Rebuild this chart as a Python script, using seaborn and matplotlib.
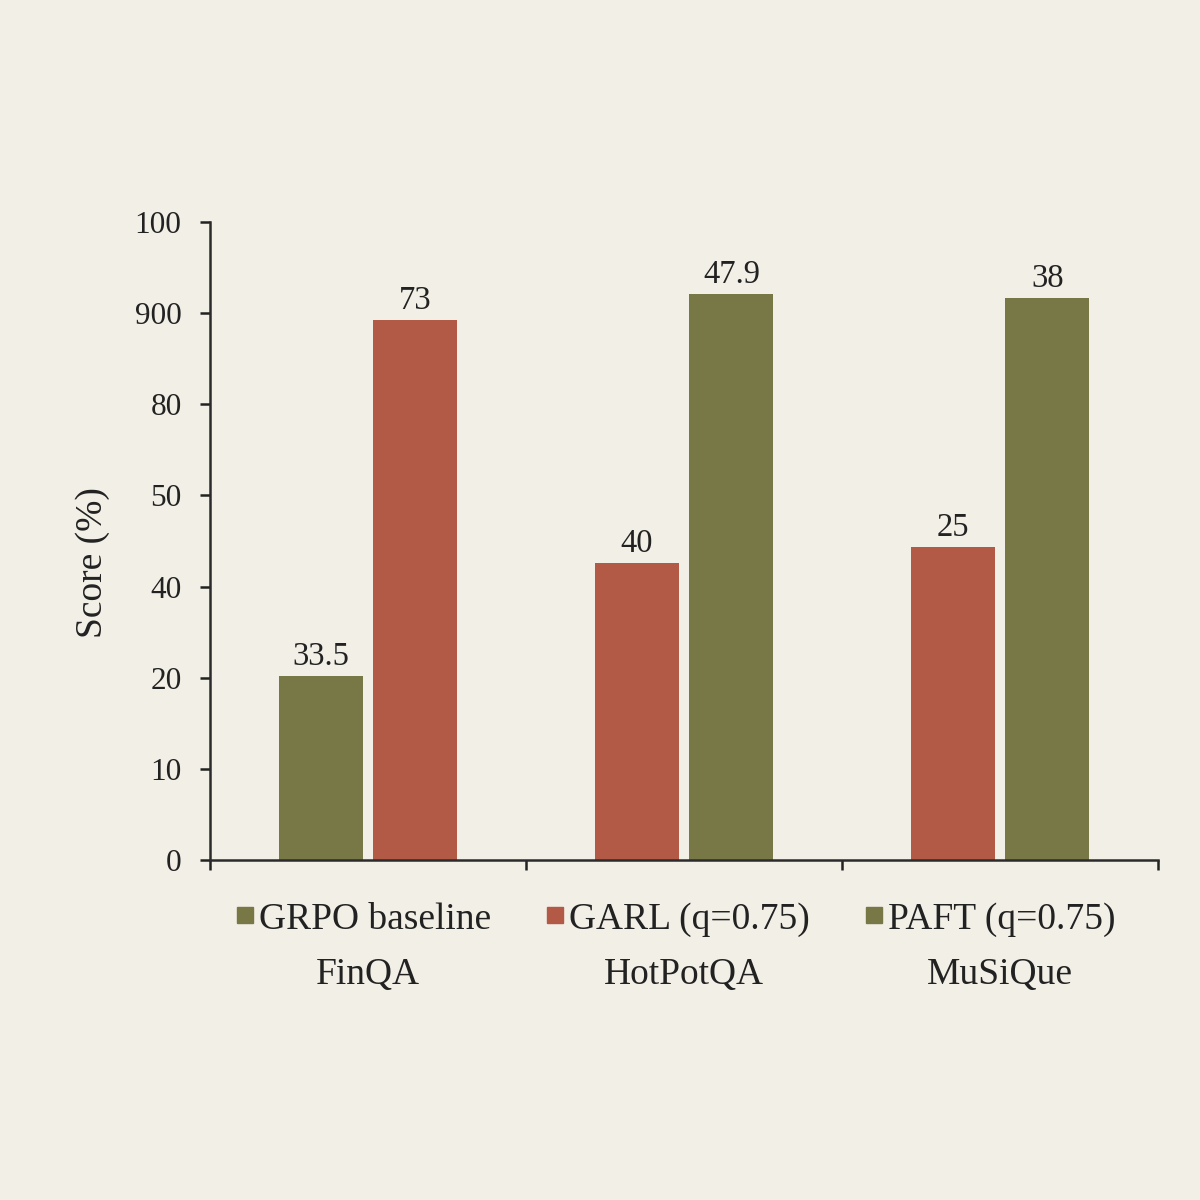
import numpy as np
import pandas as pd
import matplotlib
matplotlib.use("Agg")
import matplotlib.pyplot as plt
import seaborn as sns
from matplotlib.lines import Line2D

# ---- data ----
datasets = ["FinQA", "FinQA", "HotPotQA", "HotPotQA", "MuSiQue", "MuSiQue"]
methods = ["GRPO baseline", "GARL (q=0.75)", "GARL (q=0.75)",
           "PAFT (q=0.75)", "GARL (q=0.75)", "PAFT (q=0.75)"]
bar_heights = [28.8, 84.6, 46.6, 88.7, 49.1, 88.1]
value_labels = ["33.5", "73", "40", "47.9", "25", "38"]
categories = ["FinQA", "HotPotQA", "MuSiQue"]
legend_order = ["GRPO baseline", "GARL (q=0.75)", "PAFT (q=0.75)"]
ytick_labels = ["0", "10", "20", "40", "50", "80", "900", "100"]

# ---- style ----
BG = "#f2efe6"
GREEN = "#787846"
RED = "#b35a47"
INK = "#222222"
palette = {"GRPO baseline": GREEN, "GARL (q=0.75)": RED, "PAFT (q=0.75)": GREEN}

sns.set_style("ticks")
plt.rcParams["font.family"] = ["Liberation Serif", "DejaVu Serif"]
plt.rcParams["text.color"] = INK
plt.rcParams["axes.labelcolor"] = INK
plt.rcParams["xtick.color"] = INK
plt.rcParams["ytick.color"] = INK

df = pd.DataFrame({"dataset": datasets, "method": methods, "score": bar_heights,
                   "label": value_labels})
df["slot"] = df.groupby("dataset").cumcount()
df["pos"] = df["dataset"].map({c: i for i, c in enumerate(categories)}) + (df["slot"] - 0.5) * 0.3

fig = plt.figure(figsize=(12, 12), dpi=100, facecolor=BG)
ax = fig.add_axes([0.175, 1 - 860 / 1200, 948 / 1200, 638 / 1200])
ax.set_facecolor(BG)

sns.barplot(data=df, x="pos", y="score", hue="method", hue_order=legend_order,
            palette=palette, native_scale=True, dodge=False, width=0.887,
            saturation=1, linewidth=0, errorbar=None, legend=False, ax=ax)

for _, r in df.iterrows():
    ax.annotate(r["label"], (r["pos"], r["score"]), xytext=(0, 8),
                textcoords="offset points", ha="center", va="baseline",
                fontsize=23.5, color=INK)

ax.set_xlim(-0.5, 2.5)
ax.set_ylim(0, 100)
ax.set_yticks(np.linspace(0, 100, len(ytick_labels)))
ax.set_yticklabels(ytick_labels, fontsize=22.5)

ax.set_xticks([-0.5, 0.5, 1.5, 2.5])
ax.set_xticklabels([])
ax.set_xticks(range(len(categories)), minor=True)
ax.set_xticklabels(categories, minor=True, fontsize=27)
ax.tick_params(axis="x", which="minor", length=0, pad=70.5)
ax.tick_params(axis="both", which="major", direction="out", length=7.5, width=1.8)
ax.tick_params(axis="y", pad=13)

for s in ["top", "right"]:
    ax.spines[s].set_visible(False)
for s in ["left", "bottom"]:
    ax.spines[s].set_linewidth(1.8)
    ax.spines[s].set_color("#2b2b2b")

ax.set_xlabel("")
ax.set_ylabel("Score (%)", fontsize=27)
ax.yaxis.set_label_coords(-0.105, 0.466)

handles = [Line2D([], [], marker="s", ls="", color=palette[m], markersize=11.5)
           for m in legend_order]
ax.legend(handles, legend_order, loc="center", bbox_to_anchor=(0.4916, -0.093),
          ncol=3, frameon=False, handlelength=0.45, handletextpad=0.14,
          columnspacing=1.5, fontsize=27, borderaxespad=0, borderpad=0)

fig.savefig("out.png", dpi=100, facecolor=BG)
